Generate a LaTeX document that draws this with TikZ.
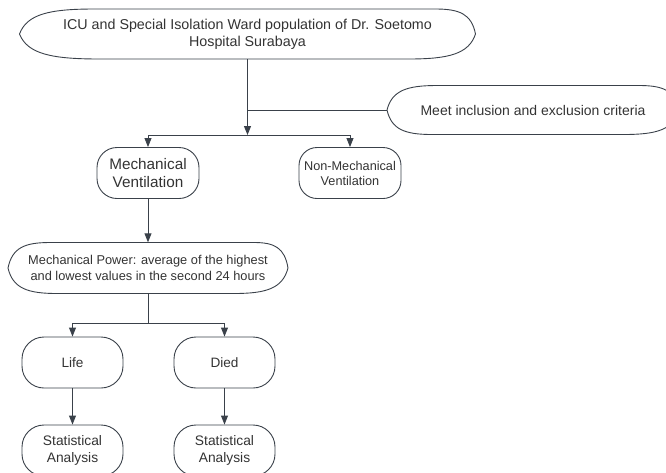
\documentclass[tikz,border=0pt]{standalone}
\usepackage{fontspec}
\setmainfont{Liberation Sans}
\usetikzlibrary{arrows.meta,calc}
\definecolor{txt}{HTML}{333333}
\definecolor{ln}{HTML}{3A414A}
\tikzset{
  lbl/.style={draw=none, inner sep=0pt, align=center, text=txt},
  rbox/.style={draw=ln, line width=0.9pt, rounded corners=20pt, inner sep=0pt, align=center, text=txt, minimum width=102pt, minimum height=51pt},
  conn/.style={draw=ln, line width=0.9pt},
  arr/.style={conn, -{Triangle[width=7pt,length=9pt]}},
  lensline/.style={draw=ln, line width=0.9pt},
}
% cx cy W H aTL aBL aTR aBR
\newcommand\lenspath[8]{%
  \pgfmathsetmacro\lxa{#1-#3/2}\pgfmathsetmacro\lxb{#1+#3/2}%
  \pgfmathsetmacro\lyt{#2-#4/2}\pgfmathsetmacro\lyb{#2+#4/2}%
  \pgfmathsetmacro\lhu{#2-0.4*#4}\pgfmathsetmacro\lhd{#2+0.4*#4}%
  \draw[lensline] (\lxa,#2)
    .. controls ({\lxa+0.1*#5},\lhu) and ({\lxa+0.4*#5},\lyt) .. ({\lxa+#5},\lyt)
    -- ({\lxb-#7},\lyt)
    .. controls ({\lxb-0.4*#7},\lyt) and ({\lxb-0.1*#7},\lhu) .. (\lxb,#2)
    .. controls ({\lxb-0.1*#8},\lhd) and ({\lxb-0.4*#8},\lyb) .. ({\lxb-#8},\lyb)
    -- ({\lxa+#6},\lyb)
    .. controls ({\lxa+0.4*#6},\lyb) and ({\lxa+0.1*#6},\lhd) .. cycle;%
}
\begin{document}
\begin{tikzpicture}[x=1pt,y=-1pt]
\useasboundingbox (0,0) rectangle (666,472);

% lens-shaped nodes
\node[lbl, minimum width=456pt, minimum height=50pt, font=\fontsize{14.3}{17}\selectfont] (top) at (247.5,34)
  {ICU and Special Isolation Ward population of Dr. Soetomo\\Hospital Surabaya};
\lenspath{247.5}{34}{456}{50}{75}{80}{40}{67}

\node[lbl, minimum width=292pt, minimum height=49pt, font=\fontsize{14}{17}\selectfont] (crit) at (533,110)
  {Meet inclusion and exclusion criteria};
\lenspath{533}{110}{292}{49}{50}{45}{40}{55}

\node[rbox, font=\fontsize{15.3}{18}\selectfont] (mv) at (148,173) {Mechanical\\Ventilation};
\node[rbox, rounded corners=18pt, font=\fontsize{12.7}{15}\selectfont] (nmv) at (350,173) {Non-Mechanical\\Ventilation};

\node[lbl, minimum width=280pt, minimum height=51pt, font=\fontsize{12.8}{16}\selectfont] (mp) at (148,268)
  {Mechanical Power: average of the highest\\and lowest values in the second 24 hours};
\lenspath{148}{268}{280}{51}{42}{49}{34}{54}

\node[rbox, minimum width=101pt, rounded corners=22pt, font=\fontsize{13.6}{17}\selectfont] (life) at (72.5,362.5) {Life};
\node[rbox, minimum width=101pt, rounded corners=22pt, font=\fontsize{13.6}{17}\selectfont] (died) at (224.5,362.5) {Died};
\node[rbox, minimum width=101pt, rounded corners=22pt, font=\fontsize{13.8}{17}\selectfont] (sa1) at (72.5,450.5) {Statistical\\Analysis};
\node[rbox, minimum width=101pt, rounded corners=22pt, font=\fontsize{13.8}{17}\selectfont] (sa2) at (224.5,450.5) {Statistical\\Analysis};

% connectors
\coordinate (j0) at (247.5,110);
\coordinate (j1) at (247.5,135);
\coordinate (b1) at (148,135);
\coordinate (b2) at (350,135);
\draw[conn] (crit.west) -- (j0);
\draw[arr] (top.south) -- (j1);
\draw[conn] (b1) -- (b2);
\draw[arr] (b1) -- (mv.north);
\draw[arr] (b2) -- (nmv.north);
\draw[arr] (mv.south) -- (mp.north);

\coordinate (j2) at (148,323);
\coordinate (c1) at (72.5,323);
\coordinate (c2) at (224.5,323);
\draw[conn] (mp.south) -- (j2);
\draw[conn] (c1) -- (c2);
\draw[arr] (c1) -- (life.north);
\draw[arr] (c2) -- (died.north);
\draw[arr] (life.south) -- (sa1.north);
\draw[arr] (died.south) -- (sa2.north);
\end{tikzpicture}
\end{document}
